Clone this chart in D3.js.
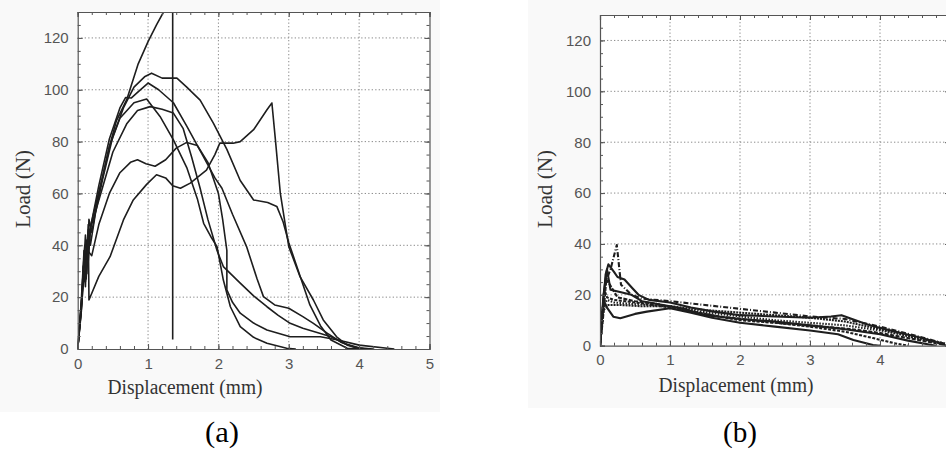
<!DOCTYPE html>
<html>
<head>
<meta charset="utf-8">
<script src="https://cdn.jsdelivr.net/npm/d3@7/dist/d3.min.js"></script>
<style>
  html, body { margin: 0; padding: 0; background: #ffffff; }
  svg { display: block; }
</style>
</head>
<body>
<svg id="fig" width="946" height="451"></svg>
<script>
// ---- data -------------------------------------------------------------
const xTickValues = [0, 1, 2, 3, 4, 5];
const yTickValues = [0, 20, 40, 60, 80, 100, 120];
const xDomain = [0, 5];
const yDomain = [0, 130];
const xLabel = "Displacement (mm)";
const yLabel = "Load (N)";
const panelTags = ["(a)", "(b)"];

// (a) load–displacement curves, [displacement mm, load N]
const curveA1 = [[0,0],[0.05,14],[0.09,30],[0.11,24],[0.13,42],[0.15,34],[0.18,47],[0.25,55],[0.35,66],[0.45,78],[0.55,88],[0.7,96.4],[0.86,110],[1.0,118.6],[1.12,125],[1.22,130],[1.3,136],[1.35,140],[1.35,3.7]];
const curveA2 = [[0,0],[0.06,20],[0.1,38],[0.12,30],[0.15,46],[0.18,40],[0.25,52],[0.35,65],[0.5,82],[0.65,93],[0.8,101],[0.95,105],[1.05,106.4],[1.2,104.5],[1.41,104.5],[1.55,101],[1.74,96],[1.93,87],[2.12,77],[2.31,65],[2.5,57.5],[2.7,56.5],[2.83,55],[2.92,49],[3.0,41],[3.1,33],[3.2,25],[3.3,17],[3.45,9],[3.6,3.5],[3.83,0.3],[4.0,0]];
const curveA3 = [[0,0],[0.07,24],[0.11,44],[0.14,33],[0.19,48],[0.3,63],[0.45,81],[0.6,93],[0.68,97],[0.76,96.8],[0.87,99.5],[1.0,102.6],[1.15,100],[1.36,95],[1.55,86],[1.75,76],[1.95,66],[2.05,62],[2.2,52],[2.4,39.5],[2.55,27],[2.64,20.2],[2.8,17],[3.0,15.7],[3.2,12.5],[3.35,9.9],[3.55,6],[3.75,2.5],[3.95,0.5],[4.1,0]];
const curveA4 = [[0,0],[0.06,18],[0.1,40],[0.13,29],[0.16,50],[0.2,45],[0.3,60],[0.45,78],[0.6,89],[0.8,95],[0.98,96.4],[1.17,89.7],[1.36,80.7],[1.55,70],[1.7,58],[1.79,48.5],[1.9,43],[1.98,39.5],[2.07,26.6],[2.17,16.3],[2.31,8.6],[2.5,4.5],[2.69,2.2],[2.97,0.3],[3.1,0]];
const curveA5 = [[0,0],[0.05,16],[0.09,36],[0.12,27],[0.15,44],[0.22,50],[0.35,62],[0.5,76],[0.7,87],[0.85,92],[1.03,93.5],[1.2,92.5],[1.36,91],[1.5,85],[1.62,74],[1.74,62],[1.85,50],[1.98,38],[2.07,31.8],[2.31,25.4],[2.5,20.5],[2.69,16.3],[2.85,13],[3.02,9.9],[3.2,8],[3.45,6],[3.6,4.7],[3.8,2],[4.0,0.5],[4.2,0]];
const curveA6 = [[0,0],[0.05,15],[0.08,32],[0.11,26],[0.14,38],[0.2,36],[0.3,48],[0.45,60],[0.6,68],[0.75,72],[0.85,73],[0.97,71.5],[1.1,70.5],[1.25,73],[1.4,77.5],[1.55,79.7],[1.7,78.5],[1.85,72],[2.0,60],[2.06,50],[2.12,38],[2.12,22.8],[2.2,18],[2.31,13.8],[2.5,10],[2.69,7.3],[3.02,4.7],[3.45,4.7],[3.7,3.5],[4.0,1.5],[4.4,0.3],[4.5,0]];
const curveA7 = [[0,0],[0.05,18],[0.09,38],[0.12,28],[0.15,48],[0.16,18.9],[0.3,28],[0.46,35.6],[0.65,49.8],[0.79,57.5],[0.98,63.5],[1.12,67.2],[1.25,66],[1.35,63],[1.46,62],[1.6,64],[1.83,69],[1.95,75],[2.02,79.4],[2.21,79.4],[2.31,80],[2.5,84.6],[2.69,92.3],[2.76,94.9],[2.81,80.7],[2.88,60],[2.95,48],[3.0,39.5],[3.16,27.9],[3.35,18.9],[3.49,11.2],[3.68,4.7],[3.83,1.5],[4.0,0.3],[4.1,0]];
const curvesA = [curveA1, curveA2, curveA3, curveA4, curveA5, curveA6, curveA7];

// (b) load–displacement curves, [displacement mm, load N]
const curveB1 = [[0,0],[0.03,12],[0.08,25],[0.15,30],[0.24,39.6],[0.3,24],[0.45,20],[0.6,18.5],[1.0,17.5],[1.5,16],[2.0,14.5],[2.5,13],[3.0,11.5],[3.5,10.5],[4.0,7.5],[4.5,4],[4.9,1],[5,0]];
const curveB2 = [[0,0],[0.04,15],[0.08,28],[0.12,32],[0.2,29],[0.25,27],[0.35,26],[0.45,23],[0.55,20],[0.7,18],[1.0,17],[1.3,15],[1.6,13.5],[2.0,12],[2.5,11.5],[3.0,11],[3.3,11.5],[3.45,12],[3.6,10.5],[3.8,8.5],[4.0,7],[4.3,5],[4.6,3],[4.85,1],[4.95,0]];
const curveB3 = [[0,0],[0.05,20],[0.1,30],[0.15,22],[0.3,21],[0.45,20],[0.6,17.5],[0.9,16],[1.2,14.5],[1.5,12],[2.0,10.5],[2.5,9.5],[3.0,8],[3.5,6.5],[4.0,4.5],[4.4,2],[4.7,0.5],[4.8,0]];
const curveB4 = [[0,0],[0.05,18],[0.1,15],[0.19,11.4],[0.29,10.8],[0.5,12.5],[0.67,13.4],[1.0,14.7],[1.3,13],[1.6,11],[2.0,9],[2.5,7.5],[3.0,6],[3.4,4.5],[3.62,2.2],[3.9,0.3],[4.0,0]];
const curveB5 = [[0,0],[0.05,16],[0.1,18],[0.2,17],[0.4,16.5],[0.7,16],[1.0,15.5],[1.4,13.5],[2.0,11.5],[2.5,10],[3.0,9],[3.5,8],[4.0,6],[4.4,4],[4.8,1.5],[5,0.5]];
const curveB6 = [[0,0],[0.06,22],[0.1,19],[0.2,18],[0.5,17],[1.0,15],[1.5,12.5],[2.0,10],[2.5,9],[3.0,7.5],[3.5,5.5],[3.9,3],[4.2,1],[4.4,0]];
const curveB7 = [[0,0],[0.05,14],[0.12,16],[0.3,16],[0.6,15.5],[1.0,15.5],[1.5,14],[2,13],[2.5,12],[3,11],[3.5,9.5],[4,6.5],[4.5,3],[4.9,1]];
const curveB8 = [[0,0],[0.04,10],[0.09,26],[0.14,24],[0.25,19],[0.5,17.5],[0.8,16.5],[1.2,14],[1.7,11.5],[2.2,10],[2.7,8.5],[3.2,7.5],[3.6,6.5],[4.0,5],[4.5,2.5],[4.9,0.5]];
const curvesB = [curveB1, curveB2, curveB3, curveB4, curveB5, curveB6, curveB7, curveB8];
const dashB = ["5,2,1,2", null, null, null, "1.5,1.5", "3,1.5", "2,1", "4,1.5"];

// ---- drawing ----------------------------------------------------------
const svg = d3.select("#fig");
const serif = "'Liberation Serif', 'Times New Roman', serif";

function drawPanel(opts) {
  const { id, left, right, top, bottom, curves, dashes, width, tagX, tagY,
          xTitleX, xTitleY, yTitleX, yTitleY, panelRect, maxLabel } = opts;

  const g = svg.append("g").attr("class", "panel-" + id);

  g.append("rect")
    .attr("x", panelRect[0]).attr("y", panelRect[1])
    .attr("width", panelRect[2]).attr("height", panelRect[3])
    .attr("fill", "#f9f9f9");
  g.append("rect")
    .attr("x", left).attr("y", top)
    .attr("width", right - left).attr("height", bottom - top)
    .attr("fill", "#ffffff");

  const x = d3.scaleLinear().domain(xDomain).range([left, right]);
  const y = d3.scaleLinear().domain(yDomain).range([bottom, top]);

  // dotted grid at the major ticks
  const grid = g.append("g").attr("stroke", "#8a8a8a").attr("stroke-width", 1)
    .attr("stroke-dasharray", "1.3,2.2");
  grid.selectAll("line.v").data(xTickValues.filter(d => d > 0 && d < 5)).join("line")
    .attr("class", "v")
    .attr("x1", d => x(d)).attr("x2", d => x(d))
    .attr("y1", top).attr("y2", bottom);
  grid.selectAll("line.h").data(yTickValues.filter(d => d > 0)).join("line")
    .attr("class", "h")
    .attr("x1", left).attr("x2", right)
    .attr("y1", d => y(d)).attr("y2", d => y(d));

  // curves
  const clipId = "clip-" + id;
  svg.append("clipPath").attr("id", clipId)
    .append("rect").attr("x", left).attr("y", top)
    .attr("width", right - left).attr("height", bottom - top);

  const line = d3.line().x(d => x(d[0])).y(d => y(d[1])).curve(d3.curveLinear);
  g.append("g").attr("clip-path", `url(#${clipId})`)
    .selectAll("path").data(curves).join("path")
    .attr("d", line)
    .attr("fill", "none")
    .attr("stroke", "#1e1e1e")
    .attr("stroke-width", width)
    .attr("stroke-linejoin", "round")
    .attr("stroke-dasharray", (d, i) => dashes ? dashes[i] : null);

  // frame with inward ticks on all four sides
  const minorX = d3.range(0, 5.001, 0.2);
  const minorY = d3.range(0, 130.001, 5);
  const makers = [
    () => d3.axisBottom(x), () => d3.axisTop(x), () => d3.axisLeft(y), () => d3.axisRight(y)
  ];
  const places = [`translate(0,${bottom})`, `translate(0,${top})`,
                  `translate(${left},0)`, `translate(${right},0)`];
  makers.forEach((make, k) => {
    const isX = k < 2;
    const labelled = k === 0 || k === 2;
    const minor = isX ? minorX : minorY;
    const major = isX ? xTickValues : yTickValues;

    const minorG = g.append("g").attr("transform", places[k])
      .call(make().tickValues(minor).tickSize(-3).tickFormat(""));
    minorG.select(".domain").remove();
    minorG.selectAll("line").attr("stroke", "#555");

    const fmt = labelled ? (d => (isX && d > maxLabel) ? "" : String(d)) : "";
    const majorG = g.append("g").attr("transform", places[k])
      .call(make().tickValues(major).tickSize(-5)
        .tickPadding(labelled ? 9 : 0).tickFormat(fmt));
    majorG.select(".domain").attr("stroke", "#555").attr("stroke-width", 1.2);
    majorG.selectAll("line").attr("stroke", "#555");
    majorG.selectAll("text")
      .attr("font-family", "'Liberation Sans', Arial, sans-serif")
      .attr("font-size", 15)
      .attr("fill", "#555");
  });

  // titles
  g.append("text").text(xLabel)
    .attr("x", xTitleX).attr("y", xTitleY).attr("text-anchor", "middle")
    .attr("font-family", serif).attr("font-size", 20).attr("fill", "#333")
    .attr("textLength", 155).attr("lengthAdjust", "spacingAndGlyphs");
  g.append("text").text(yLabel)
    .attr("transform", `translate(${yTitleX},${yTitleY}) rotate(-90)`)
    .attr("text-anchor", "middle")
    .attr("font-family", serif).attr("font-size", 20).attr("fill", "#333")
    .attr("textLength", 78).attr("lengthAdjust", "spacingAndGlyphs");
  svg.append("text").text(panelTags[id === "a" ? 0 : 1])
    .attr("x", tagX).attr("y", tagY).attr("text-anchor", "middle")
    .attr("font-family", serif).attr("font-size", 30).attr("fill", "#000")
    .attr("textLength", 34).attr("lengthAdjust", "spacingAndGlyphs");
}

drawPanel({
  id: "a", left: 77.7, right: 429.5, top: 12, bottom: 349,
  curves: curvesA, dashes: null, width: 1.6, maxLabel: 5,
  tagX: 222, tagY: 442, xTitleX: 185, xTitleY: 394, yTitleX: 30, yTitleY: 189,
  panelRect: [0, 0, 440, 412]
});
drawPanel({
  id: "b", left: 600, right: 950, top: 15, bottom: 345.7,
  curves: curvesB, dashes: dashB, width: 2.1, maxLabel: 4,
  tagX: 740, tagY: 442, xTitleX: 736, xTitleY: 392, yTitleX: 552, yTitleY: 189,
  panelRect: [528, 0, 418, 408]
});
</script>
</body>
</html>
